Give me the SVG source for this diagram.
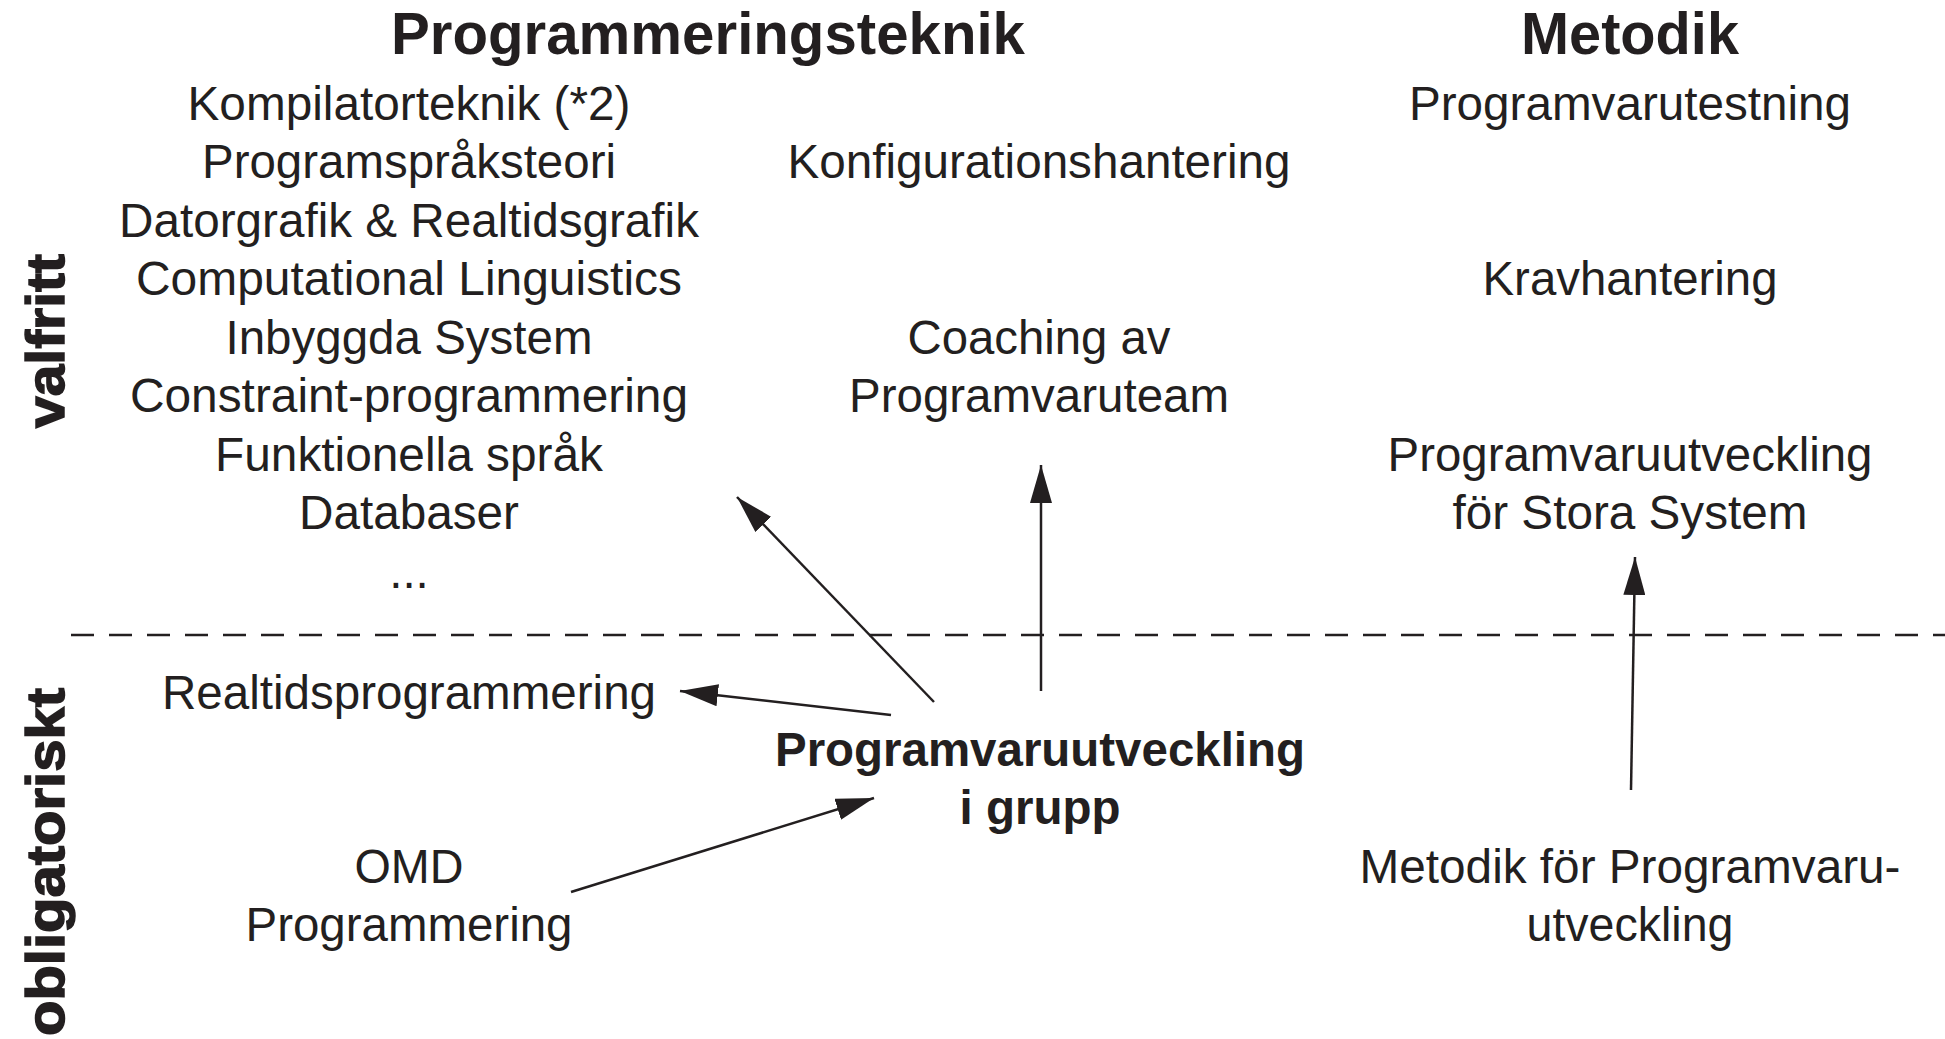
<svg xmlns="http://www.w3.org/2000/svg" width="1945" height="1039" viewBox="0 0 1945 1039">
<style>
text{font-family:"Liberation Sans",Arial,Helvetica,sans-serif;fill:#231f20;text-anchor:middle}
.r{font-size:47.5px}
.b{font-size:47.5px;font-weight:bold}
.h{font-size:59px;font-weight:bold}
.v{font-size:54px;font-weight:bold;stroke:#231f20;stroke-width:1.5}
.c{stroke:#231f20;stroke-width:2.5;fill:none}
</style>
<defs>
<marker id="ah" markerUnits="userSpaceOnUse" markerWidth="38" markerHeight="22" refX="38" refY="11" orient="auto">
<path d="M0,0 L38,11 L0,22 z" fill="#231f20"/>
</marker>
</defs>
<rect width="1945" height="1039" fill="#fff"/>
<g id="heading-programmeringsteknik"><text class="h" x="708" y="54" textLength="634" lengthAdjust="spacingAndGlyphs">Programmeringsteknik</text></g>
<g id="heading-metodik"><text class="h" x="1630" y="54" textLength="218" lengthAdjust="spacingAndGlyphs">Metodik</text></g>
<g id="label-valfritt"><text class="v" transform="translate(64,341) rotate(-90)" textLength="174" lengthAdjust="spacingAndGlyphs">valfritt</text></g>
<g id="label-obligatoriskt"><text class="v" transform="translate(64,862) rotate(-90)" textLength="348" lengthAdjust="spacingAndGlyphs">obligatoriskt</text></g>
<g id="kompilatorteknik"><text class="r" x="409" y="120" textLength="443" lengthAdjust="spacingAndGlyphs">Kompilatorteknik (*2)</text></g>
<g id="programspraksteori"><text class="r" x="409" y="178" textLength="414" lengthAdjust="spacingAndGlyphs">Programspråksteori</text></g>
<g id="datorgrafik"><text class="r" x="409" y="237" textLength="580" lengthAdjust="spacingAndGlyphs">Datorgrafik &amp; Realtidsgrafik</text></g>
<g id="computational-linguistics"><text class="r" x="409" y="295" textLength="546" lengthAdjust="spacingAndGlyphs">Computational Linguistics</text></g>
<g id="inbyggda-system"><text class="r" x="409" y="354" textLength="367" lengthAdjust="spacingAndGlyphs">Inbyggda System</text></g>
<g id="constraint-programmering"><text class="r" x="409" y="412" textLength="558" lengthAdjust="spacingAndGlyphs">Constraint-programmering</text></g>
<g id="funktionella-sprak"><text class="r" x="409" y="471" textLength="388" lengthAdjust="spacingAndGlyphs">Funktionella språk</text></g>
<g id="databaser"><text class="r" x="409" y="529" textLength="220" lengthAdjust="spacingAndGlyphs">Databaser</text></g>
<g id="ellipsis"><text class="r" x="409" y="588">...</text></g>
<g id="konfigurationshantering"><text class="r" x="1039" y="178" textLength="503" lengthAdjust="spacingAndGlyphs">Konfigurationshantering</text></g>
<g id="coaching"><text class="r" x="1039" y="354" textLength="263" lengthAdjust="spacingAndGlyphs">Coaching av</text><text class="r" x="1039" y="412" textLength="380" lengthAdjust="spacingAndGlyphs">Programvaruteam</text></g>
<g id="programvarutestning"><text class="r" x="1630" y="120" textLength="442" lengthAdjust="spacingAndGlyphs">Programvarutestning</text></g>
<g id="kravhantering"><text class="r" x="1630" y="295" textLength="295" lengthAdjust="spacingAndGlyphs">Kravhantering</text></g>
<g id="pus"><text class="r" x="1630" y="471" textLength="485" lengthAdjust="spacingAndGlyphs">Programvaruutveckling</text><text class="r" x="1630" y="529" textLength="355" lengthAdjust="spacingAndGlyphs">för Stora System</text></g>
<g id="realtidsprogrammering"><text class="r" x="409" y="709" textLength="494" lengthAdjust="spacingAndGlyphs">Realtidsprogrammering</text></g>
<g id="pvg"><text class="b" x="1040" y="766" textLength="530" lengthAdjust="spacingAndGlyphs">Programvaruutveckling</text><text class="b" x="1040" y="824" textLength="161" lengthAdjust="spacingAndGlyphs">i grupp</text></g>
<g id="omd"><text class="r" x="409" y="883" textLength="109" lengthAdjust="spacingAndGlyphs">OMD</text><text class="r" x="409" y="941" textLength="327" lengthAdjust="spacingAndGlyphs">Programmering</text></g>
<g id="metodik-pu"><text class="r" x="1630" y="883" textLength="541" lengthAdjust="spacingAndGlyphs">Metodik för Programvaru-</text><text class="r" x="1630" y="941" textLength="207" lengthAdjust="spacingAndGlyphs">utveckling</text></g>
<g id="connectors">
<line class="c" x1="71" y1="635" x2="1945" y2="635" stroke-dasharray="23 15"/>
<line class="c" x1="934" y1="702" x2="737" y2="497" marker-end="url(#ah)"/>
<line class="c" x1="1041" y1="691" x2="1041" y2="465" marker-end="url(#ah)"/>
<line class="c" x1="891" y1="715" x2="680" y2="691" marker-end="url(#ah)"/>
<line class="c" x1="571" y1="892" x2="874" y2="798" marker-end="url(#ah)"/>
<line class="c" x1="1631" y1="790" x2="1635" y2="557" marker-end="url(#ah)"/>
</g>
</svg>
